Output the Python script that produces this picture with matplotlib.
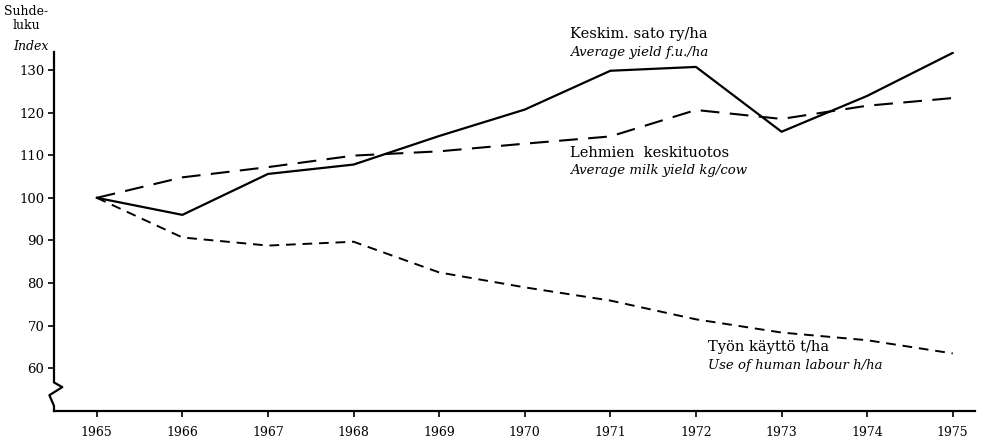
import matplotlib.pyplot as plt
from matplotlib.lines import Line2D
import matplotlib.transforms as mtransforms

years = [1965, 1966, 1967, 1968, 1969, 1970, 1971, 1972, 1973, 1974, 1975]
yield_idx = [100, 96.0, 105.6, 107.8, 114.5, 120.7, 129.8, 130.7, 115.5, 123.9, 134.0]
milk_idx = [100, 104.8, 107.2, 109.9, 110.9, 112.7, 114.4, 120.6, 118.5, 121.6, 123.4]
labour_idx = [100, 90.7, 88.8, 89.7, 82.5, 79.0, 75.9, 71.5, 68.4, 66.6, 63.5]
yticks = [60, 70, 80, 90, 100, 110, 120, 130]

plt.rcParams['font.family'] = ['DejaVu Serif']

fig = plt.figure(figsize=(9.87, 4.42), dpi=100)
ax = fig.add_axes([54/987, 1-411/442, 921/987, 359/442])

ax.plot(years, yield_idx, color='black', lw=1.6, ls='-')
ax.plot(years, milk_idx, color='black', lw=1.5, ls=(0, (9, 5)))
ax.plot(years, labour_idx, color='black', lw=1.4, ls=(0, (5, 3.5)))

ax.set_xlim(1964.50, 1975.26)
ax.set_ylim(50, 134.2)
ax.set_xticks(years)
ax.set_yticks(yticks)
ax.tick_params(axis='x', labelsize=9, length=4, width=1.2, direction='out', pad=7)
ax.tick_params(axis='y', labelsize=9.5, length=4, width=1.2, direction='out', pad=3)

for s in ['top', 'right', 'left']:
    ax.spines[s].set_visible(False)
ax.spines['bottom'].set_linewidth(1.6)

# left axis with break mark
tr = mtransforms.blended_transform_factory(ax.transAxes, ax.transData)
bx = [0, 0, 0.009, -0.005, 0, 0]
by = [134.2, 56.7, 55.6, 53.7, 51.2, 50]
ax.add_line(Line2D(bx, by, transform=tr, color='black', lw=1.6, clip_on=False))

# series labels
fs = 10.5
ax.text(1970.53, 138.4, 'Keskim. sato ry/ha', fontsize=fs, va='center', clip_on=False)
ax.text(1970.53, 134.0, 'Average yield f.u./ha', fontsize=fs - 1, style='italic', va='center', clip_on=False)
ax.text(1970.53, 110.6, 'Lehmien  keskituotos', fontsize=fs, va='center')
ax.text(1970.53, 106.3, 'Average milk yield kg/cow', fontsize=fs - 1, style='italic', va='center')
ax.text(1972.14, 64.9, 'Työn käyttö t/ha', fontsize=fs, va='center')
ax.text(1972.14, 60.7, 'Use of human labour h/ha', fontsize=fs - 1, style='italic', va='center')

# axis title
fig.text(26/987, 1-5/442, 'Suhde-\nluku', fontsize=9, ha='center', va='top', linespacing=1.1)
fig.text(31/987, 1-46/442, 'Index', fontsize=9, style='italic', ha='center', va='center')

fig.savefig('out.png', dpi=100)
